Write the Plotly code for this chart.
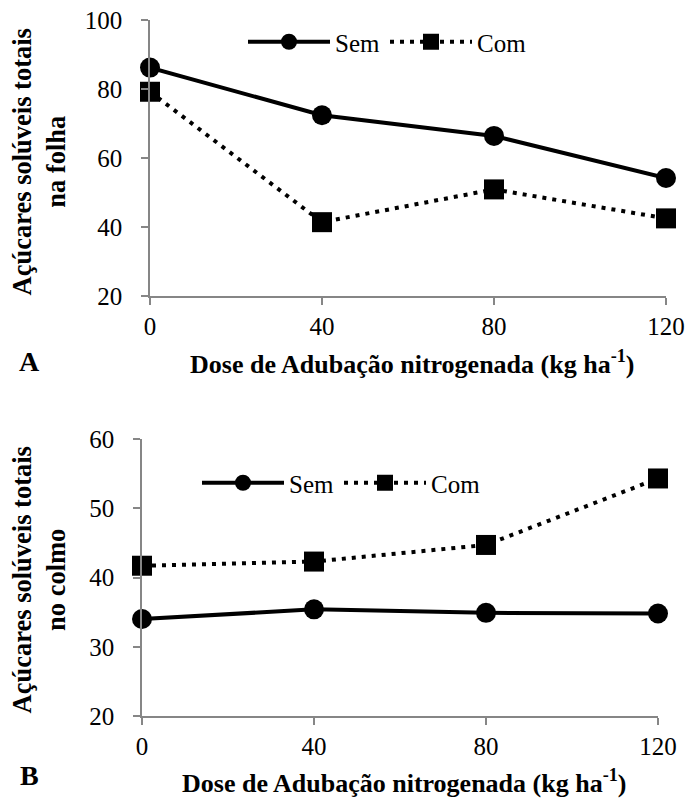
import plotly.graph_objects as go

doses = [0, 40, 80, 120]
folha_sem = [86.2, 72.4, 66.4, 54.2]
folha_com = [79.2, 41.4, 50.9, 42.5]
colmo_sem = [34.0, 35.4, 34.9, 34.8]
colmo_com = [41.7, 42.3, 44.7, 54.3]
series_names = ["Sem", "Com"]
xticks = [0, 40, 80, 120]
y1ticks = [20, 40, 60, 80, 100]
y2ticks = [20, 30, 40, 50, 60]

FONT = "Liberation Serif"
AX = "#868686"

fig = go.Figure()

def add(x, y, name, sym, dash, xa, ya, leg):
    fig.add_trace(go.Scatter(
        x=x, y=y, name=name, mode="lines+markers",
        line=dict(color="black", width=4, dash=dash),
        marker=dict(symbol=sym, size=20, color="black"),
        xaxis=xa, yaxis=ya, legend=leg, cliponaxis=False))

add(doses, folha_sem, series_names[0], "circle", "solid", "x", "y", "legend")
add(doses, folha_com, series_names[1], "square", "4px,6px", "x", "y", "legend")
add(doses, colmo_sem, series_names[0], "circle", "solid", "x2", "y2", "legend2")
add(doses, colmo_com, series_names[1], "square", "4px,6px", "x2", "y2", "legend2")

W, H = 688, 801
def px(a, b):
    return [a / W, b / W]
def py(top, bot):
    return [1 - bot / H, 1 - top / H]

axcommon = dict(showline=True, linecolor=AX, linewidth=1.5, ticks="outside",
                tickcolor=AX, ticklen=7, tickwidth=1.5, showgrid=False, zeroline=False,
                automargin=False,
                tickfont=dict(family=FONT, size=25, color="black"))

fig.update_layout(
    template="none",
    width=W, height=H, margin=dict(l=0, r=0, t=0, b=0),
    paper_bgcolor="white", plot_bgcolor="white",
    font=dict(family=FONT, color="black"),
    xaxis=dict(domain=px(150, 666), range=[0, 120], tickvals=xticks, anchor="y", **axcommon),
    yaxis=dict(domain=py(20, 296), range=[20, 100], tickvals=y1ticks, anchor="x",
               ticklabelstandoff=14, **axcommon),
    xaxis2=dict(domain=px(142, 658), range=[0, 120], tickvals=xticks, anchor="y2", **axcommon),
    yaxis2=dict(domain=py(439, 716), range=[20, 60], tickvals=y2ticks, anchor="x2",
                ticklabelstandoff=14, **axcommon),
    legend=dict(orientation="h", x=243 / W, y=1 - 42 / H, xanchor="left", yanchor="middle",
                font=dict(family=FONT, size=25), bgcolor="rgba(0,0,0,0)", itemwidth=82),
    legend2=dict(orientation="h", x=197 / W, y=1 - 483 / H, xanchor="left", yanchor="middle",
                 font=dict(family=FONT, size=25), bgcolor="rgba(0,0,0,0)", itemwidth=82),
)

ann = []
ybold = dict(family=FONT, size=26.5, color="black")
xbold = dict(family=FONT, size=26, color="black")
ann.append(dict(text="<b>Açúcares solúveis totais<br>na folha</b>", x=38.5 / W, y=1 - 162 / H,
                xref="paper", yref="paper", textangle=-90, showarrow=False, font=ybold,
                xanchor="center", yanchor="middle"))
ann.append(dict(text="<b>Açúcares solúveis totais<br>no colmo</b>", x=38.5 / W, y=1 - 580 / H,
                xref="paper", yref="paper", textangle=-90, showarrow=False, font=ybold,
                xanchor="center", yanchor="middle"))
ann.append(dict(text="<b>Dose de Adubação nitrogenada (kg ha<sup>-1</sup>)</b>", x=412 / W, y=1 - 362 / H,
                xref="paper", yref="paper", showarrow=False, font=xbold, xanchor="center", yanchor="middle"))
ann.append(dict(text="<b>Dose de Adubação nitrogenada (kg ha<sup>-1</sup>)</b>", x=404 / W, y=1 - 781 / H,
                xref="paper", yref="paper", showarrow=False, font=xbold, xanchor="center", yanchor="middle"))
ann.append(dict(text="<b>A</b>", x=29 / W, y=1 - 361 / H, xref="paper", yref="paper",
                showarrow=False, font=dict(family=FONT, size=28, color="black"),
                xanchor="center", yanchor="middle"))
ann.append(dict(text="<b>B</b>", x=29 / W, y=1 - 775 / H, xref="paper", yref="paper",
                showarrow=False, font=dict(family=FONT, size=28, color="black"),
                xanchor="center", yanchor="middle"))
fig.update_layout(annotations=ann)

fig.write_html("out.html", post_script="document.body.style.margin='0';",
               config={"displayModeBar": False})
